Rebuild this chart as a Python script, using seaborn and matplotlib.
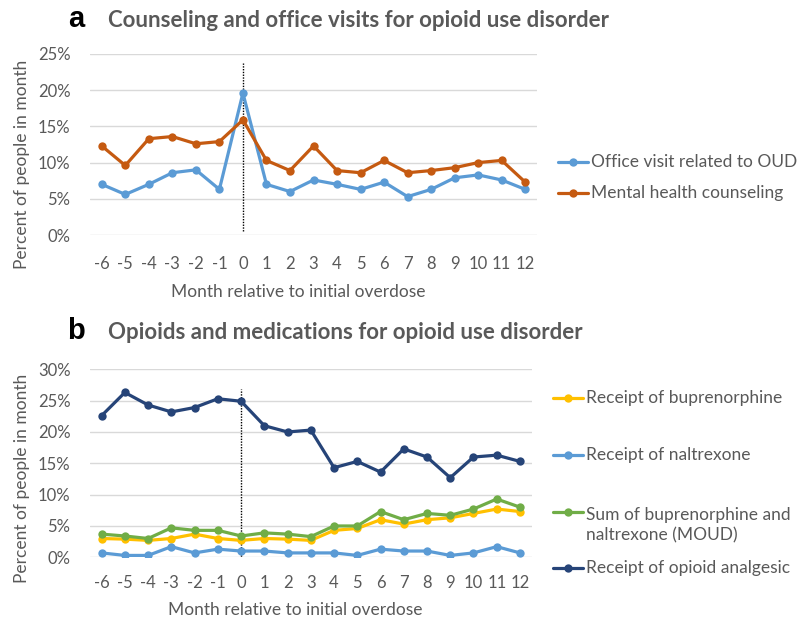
import matplotlib
matplotlib.use("Agg")
import matplotlib.pyplot as plt
from matplotlib.lines import Line2D
import seaborn as sns
import pandas as pd

# ---------------- data ----------------
months = [-6, -5, -4, -3, -2, -1, 0, 1, 2, 3, 4, 5, 6, 7, 8, 9, 10, 11, 12]

office_visit = [7.0, 5.6, 7.0, 8.6, 9.0, 6.3, 19.6, 7.0, 6.0, 7.6, 7.0, 6.3, 7.3, 5.3, 6.3, 7.9, 8.3, 7.6, 6.3]
counseling = [12.3, 9.6, 13.3, 13.6, 12.6, 12.9, 15.9, 10.3, 8.9, 12.3, 8.9, 8.6, 10.3, 8.6, 8.9, 9.3, 10.0, 10.3, 7.3]

buprenorphine = [3.0, 2.9, 2.7, 3.0, 3.7, 3.0, 2.7, 3.0, 2.9, 2.7, 4.3, 4.6, 6.0, 5.3, 6.0, 6.3, 7.0, 7.7, 7.3]
naltrexone = [0.7, 0.3, 0.3, 1.7, 0.7, 1.3, 1.0, 1.0, 0.7, 0.7, 0.7, 0.3, 1.3, 1.0, 1.0, 0.3, 0.7, 1.7, 0.7]
moud_sum = [3.7, 3.4, 3.0, 4.7, 4.3, 4.3, 3.4, 3.9, 3.7, 3.3, 5.0, 5.0, 7.3, 6.0, 7.0, 6.7, 7.7, 9.3, 8.0]
opioid_analgesic = [22.6, 26.3, 24.3, 23.2, 23.9, 25.3, 24.9, 21.0, 20.0, 20.3, 14.3, 15.3, 13.6, 17.3, 16.0, 12.7, 16.0, 16.3, 15.3]

series_a = ["Office visit related to OUD", "Mental health counseling"]
values_a = [office_visit, counseling]
colors_a = ["#5B9BD5", "#C55A11"]

series_b = ["Receipt of buprenorphine", "Receipt of naltrexone",
            "Sum of buprenorphine and\nnaltrexone (MOUD)", "Receipt of opioid analgesic"]
values_b = [buprenorphine, naltrexone, moud_sum, opioid_analgesic]
colors_b = ["#FFC000", "#5B9BD5", "#70AD47", "#264478"]

title_a = "Counseling and office visits for opioid use disorder"
title_b = "Opioids and medications for opioid use disorder"
ylabel = "Percent of people in month"
xlabel = "Month relative to initial overdose"

# ---------------- style ----------------
sns.set_style("white")
FONT = "Lato"
plt.rcParams["font.family"] = [FONT, "DejaVu Sans"]
GREY = "#595959"
W, H = 806, 626

fig = plt.figure(figsize=(W / 100, H / 100), dpi=100)


def fx(px):
    return px / W


def fy(py):
    return 1 - py / H


axA = fig.add_axes([fx(90), fy(235), fx(537) - fx(90), fy(54) - fy(235)])
axB = fig.add_axes([fx(90), fy(557.3), fx(531.6) - fx(90), fy(369.3) - fy(557.3)])


def long_df(names, vals):
    rows = []
    for n, v in zip(names, vals):
        for m, val in zip(months, v):
            rows.append({"month": m, "pct": val, "series": n})
    return pd.DataFrame(rows)


LW = 2.3
MS = 6.0


def draw(ax, names, vals, colors, ymax, vline):
    df = long_df(names, vals)
    sns.lineplot(data=df, x="month", y="pct", hue="series", hue_order=names,
                 palette=colors, marker="o", markersize=MS, markeredgewidth=0,
                 linewidth=LW, legend=False, ax=ax, sort=False, errorbar=None)
    ax.set_xlim(-6.5, 12.5)
    ax.set_ylim(0, ymax)
    ax.set_yticks(range(0, ymax + 1, 5))
    ax.set_yticklabels([f"{t}%" for t in range(0, ymax + 1, 5)])
    ax.set_xticks(months)
    ax.set_xticklabels([str(m) for m in months])
    ax.grid(axis="y", color="#D9D9D9", linewidth=1.0)
    ax.grid(axis="x", visible=False)
    ax.set_axisbelow(True)
    for s in ax.spines.values():
        s.set_visible(False)
    ax.tick_params(axis="both", length=0, labelsize=12, labelcolor=GREY)
    ax.tick_params(axis="y", pad=14)
    ax.plot([0, 0], vline, color="black", linestyle=(0, (1, 1)), linewidth=1.0, zorder=1)
    ax.set_xlabel(xlabel, fontsize=12.5, color=GREY)
    ax.set_ylabel(ylabel, fontsize=12.5, color=GREY)


draw(axA, series_a, values_a, colors_a, 25, [0.55, 23.8])
axA.tick_params(axis="x", pad=15)
draw(axB, series_b, values_b, colors_b, 30, [-0.3, 26.9])
axB.tick_params(axis="x", pad=13)

axA.xaxis.set_label_coords(fx(298), fy(292), transform=fig.transFigure)
axA.xaxis.label.set_va("center")
axA.yaxis.set_label_coords(fx(22), fy(164), transform=fig.transFigure)
axA.yaxis.label.set_va("center")
axB.xaxis.set_label_coords(fx(295), fy(610), transform=fig.transFigure)
axB.xaxis.label.set_va("center")
axB.yaxis.set_label_coords(fx(22), fy(478), transform=fig.transFigure)
axB.yaxis.label.set_va("center")

# panel letters and titles
fig.text(fx(68), fy(27), "a", fontsize=21, fontweight="bold", color="black",
         family="Liberation Sans", va="baseline", ha="left")
fig.text(fx(108), fy(27), title_a, fontsize=16, fontweight="bold", color=GREY,
         va="baseline", ha="left")
fig.text(fx(67), fy(339), "b", fontsize=21, fontweight="bold", color="black",
         family="Liberation Sans", va="baseline", ha="left")
fig.text(fx(108), fy(339), title_b, fontsize=16, fontweight="bold", color=GREY,
         va="baseline", ha="left")


# legends
def legend_entry(x0, x1, xt, y, color, label, y_text=None, va="center"):
    fig.add_artist(Line2D([fx(x0), fx(x1)], [fy(y), fy(y)], transform=fig.transFigure,
                          color=color, linewidth=LW))
    fig.add_artist(Line2D([fx((x0 + x1) / 2)], [fy(y)], transform=fig.transFigure,
                          color=color, marker="o", markersize=MS, markeredgewidth=0,
                          linestyle="none"))
    fig.text(fx(xt), fy(y if y_text is None else y_text), label, fontsize=12.5,
             color=GREY, va=va, ha="left", linespacing=1.3)


for name, col, yy in zip(series_a, colors_a, [162, 193]):
    legend_entry(558, 588, 591, yy, col, name)

legend_entry(553, 583, 586, 398, colors_b[0], series_b[0])
legend_entry(553, 583, 586, 455, colors_b[1], series_b[1])
legend_entry(553, 583, 586, 512, colors_b[2], series_b[2], y_text=525)
legend_entry(553, 583, 586, 568, colors_b[3], series_b[3])

fig.savefig("out.png", dpi=100)
